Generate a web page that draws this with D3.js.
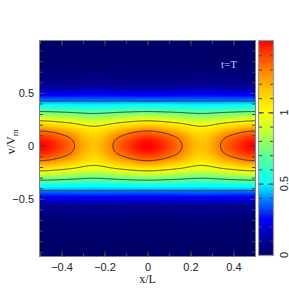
<!DOCTYPE html>
<html>
<head>
<meta charset="utf-8">
<script src="https://cdn.jsdelivr.net/npm/d3@7"></script>
<style>
  body { margin: 0; background: #fff; }
  svg { display: block; }
</style>
</head>
<body>
<div class="chart"></div>
<script>
// DATA
// ----------------------------
// sample positions of the field (x/L across, v/Vm down the rows)
const xs = [-0.5, -0.375, -0.25, -0.125, 0, 0.125, 0.25, 0.375, 0.5]
const ys = [1.0, 0.9, 0.8, 0.7, 0.6, 0.5, 0.4, 0.3, 0.2, 0.1, 0.0,
  -0.1, -0.2, -0.3, -0.4, -0.5, -0.6, -0.7, -0.8, -0.9, -1.0]

// values, one row per ys entry
const field = [
  [0.000, 0.000, 0.000, 0.000, 0.000, 0.000, 0.000, 0.000, 0.000],
  [0.001, 0.001, 0.001, 0.001, 0.001, 0.001, 0.001, 0.001, 0.001],
  [0.005, 0.005, 0.006, 0.005, 0.005, 0.005, 0.006, 0.005, 0.005],
  [0.020, 0.021, 0.024, 0.021, 0.020, 0.021, 0.024, 0.021, 0.020],
  [0.070, 0.074, 0.082, 0.074, 0.070, 0.074, 0.082, 0.074, 0.070],
  [0.200, 0.205, 0.212, 0.205, 0.200, 0.205, 0.212, 0.205, 0.200],
  [0.466, 0.465, 0.460, 0.465, 0.466, 0.465, 0.460, 0.465, 0.466],
  [0.778, 0.750, 0.715, 0.750, 0.778, 0.750, 0.715, 0.750, 0.778],
  [1.120, 1.055, 0.970, 1.055, 1.120, 1.055, 0.970, 1.055, 1.120],
  [1.395, 1.285, 1.120, 1.285, 1.395, 1.285, 1.120, 1.285, 1.395],
  [1.500, 1.365, 1.160, 1.365, 1.500, 1.365, 1.160, 1.365, 1.500],
  [1.395, 1.285, 1.120, 1.285, 1.395, 1.285, 1.120, 1.285, 1.395],
  [1.120, 1.055, 0.970, 1.055, 1.120, 1.055, 0.970, 1.055, 1.120],
  [0.778, 0.750, 0.715, 0.750, 0.778, 0.750, 0.715, 0.750, 0.778],
  [0.466, 0.465, 0.460, 0.465, 0.466, 0.465, 0.460, 0.465, 0.466],
  [0.200, 0.205, 0.212, 0.205, 0.200, 0.205, 0.212, 0.205, 0.200],
  [0.070, 0.074, 0.082, 0.074, 0.070, 0.074, 0.082, 0.074, 0.070],
  [0.020, 0.021, 0.024, 0.021, 0.020, 0.021, 0.024, 0.021, 0.020],
  [0.005, 0.005, 0.006, 0.005, 0.005, 0.005, 0.006, 0.005, 0.005],
  [0.001, 0.001, 0.001, 0.001, 0.001, 0.001, 0.001, 0.001, 0.001],
  [0.000, 0.000, 0.000, 0.000, 0.000, 0.000, 0.000, 0.000, 0.000]
]

const contourLevels = [0.1, 0.4, 0.7, 1.0, 1.3]

const xTicks = [-0.4, -0.2, 0, 0.2, 0.4]
const yTicks = [-0.5, 0, 0.5]
const cTicks = [0, 0.5, 1]

// colour table of the bar
const stopValues = [0, 0.12, 0.25, 0.38, 0.5, 0.62, 0.75, 0.87, 1.0, 1.15, 1.3, 1.43, 1.5]
const stopColors = ['#00006a', '#0000a8', '#0000ff', '#0078ff', '#00ffff', '#3cffbe',
  '#78ff78', '#c8ff32', '#ffff00', '#ffc800', '#ff7d00', '#ff3200', '#ff0000']

// SETUP
// ----------------------------
const margin = { top: 41, left: 40 }
const width = 215
const height = 215
const bar = { x: 259, y: 41, w: 14, h: 214 }

const svg = d3.select('.chart')
  .append('svg')
    .attr('width', 289)
    .attr('height', 290)

const plot = svg.append('g')
  .attr('transform', `translate(${margin.left}, ${margin.top})`)

const xScale = d3.scaleLinear().domain([-0.5, 0.5]).range([0, width])
const yScale = d3.scaleLinear().domain([-1.04, 0.99]).range([height, 0])
const color = d3.scaleLinear().domain(stopValues).range(stopColors).clamp(true)

// bicubic lookup into the table
function reflect (i, n) {
  if (i < 0) return -i
  if (i > n - 1) return 2 * (n - 1) - i
  return i
}
function cr (p0, p1, p2, p3, t) {
  return 0.5 * (2 * p1 + (-p0 + p2) * t + (2 * p0 - 5 * p1 + 4 * p2 - p3) * t * t +
    (-p0 + 3 * p1 - 3 * p2 + p3) * t * t * t)
}
function sample (x, y) {
  const nx = xs.length
  const ny = ys.length
  let fx = (x - xs[0]) / (xs[1] - xs[0])
  let fy = (ys[0] - y) / (ys[0] - ys[1])
  fx = Math.max(0, Math.min(nx - 1, fx))
  fy = Math.max(0, Math.min(ny - 1, fy))
  const i = Math.min(nx - 2, Math.floor(fx))
  const j = Math.min(ny - 2, Math.floor(fy))
  const tx = fx - i
  const ty = fy - j
  const rows = [-1, 0, 1, 2].map(dj => {
    const r = field[reflect(j + dj, ny)]
    const p = [-1, 0, 1, 2].map(di => r[reflect(i + di, nx)])
    return cr(p[0], p[1], p[2], p[3], tx)
  })
  return cr(rows[0], rows[1], rows[2], rows[3], ty)
}

// HEATMAP
// ----------------------------
const canvas = document.createElement('canvas')
canvas.width = width
canvas.height = height
const ctx = canvas.getContext('2d')
const img = ctx.createImageData(width, height)
for (let j = 0; j < height; j++) {
  for (let i = 0; i < width; i++) {
    const v = sample(xScale.invert(i + 0.5), yScale.invert(j + 0.5))
    const c = d3.rgb(color(v))
    const k = (j * width + i) * 4
    img.data[k] = c.r
    img.data[k + 1] = c.g
    img.data[k + 2] = c.b
    img.data[k + 3] = 255
  }
}
ctx.putImageData(img, 0, 0)

plot.append('image')
  .attr('width', width)
  .attr('height', height)
  .attr('preserveAspectRatio', 'none')
  .attr('href', canvas.toDataURL())

// CONTOURS
// ----------------------------
// grid padded by 2px so the ring edges fall outside the clip
const pad = 2
const gw = width + 2 * pad
const gh = height + 2 * pad
const grid = new Float64Array(gw * gh)
for (let j = 0; j < gh; j++) {
  for (let i = 0; i < gw; i++) {
    grid[j * gw + i] = sample(xScale.invert(i - pad + 0.5), yScale.invert(j - pad + 0.5))
  }
}
const contours = d3.contours().size([gw, gh]).thresholds(contourLevels)(grid)

svg.append('clipPath')
  .attr('id', 'clip')
  .append('rect')
    .attr('width', width)
    .attr('height', height)

plot.append('g')
    .attr('clip-path', 'url(#clip)')
  .append('g')
    .attr('transform', `translate(${-pad}, ${-pad})`)
  .selectAll('path')
  .data(contours)
  .enter()
  .append('path')
    .attr('d', d3.geoPath())
    .style('fill', 'none')
    .style('stroke', '#1a1a1a')
    .style('stroke-width', 0.8)

// AXES
// ----------------------------
const tickFont = g => g.selectAll('text')
  .style('font-family', '"Liberation Sans", Arial, sans-serif')
  .style('font-size', '11px')
  .style('fill', '#222')
const grey = g => {
  g.select('.domain').remove()
  g.selectAll('line').style('stroke', '#444')
}

plot.append('g')
  .attr('transform', `translate(0, ${height})`)
  .call(d3.axisBottom(xScale).tickValues(xTicks).tickSize(-5).tickPadding(7).tickFormat(d3.format('')))
  .call(grey).call(tickFont)
plot.append('g')
  .attr('transform', `translate(0, ${height})`)
  .call(d3.axisBottom(xScale).tickValues(d3.range(-0.5, 0.51, 0.1)).tickSize(-3).tickFormat(''))
  .call(grey)
plot.append('g')
  .call(d3.axisTop(xScale).tickValues(xTicks).tickSize(-5).tickFormat(''))
  .call(grey)
plot.append('g')
  .call(d3.axisTop(xScale).tickValues(d3.range(-0.5, 0.51, 0.1)).tickSize(-3).tickFormat(''))
  .call(grey)

plot.append('g')
  .call(d3.axisLeft(yScale).tickValues(yTicks).tickSize(-5).tickPadding(6).tickFormat(d3.format('')))
  .call(grey).call(tickFont)
plot.append('g')
  .call(d3.axisLeft(yScale).tickValues(d3.range(-1, 1.01, 0.1)).tickSize(-3).tickFormat(''))
  .call(grey)
plot.append('g')
  .attr('transform', `translate(${width}, 0)`)
  .call(d3.axisRight(yScale).tickValues(yTicks).tickSize(-5).tickFormat(''))
  .call(grey)
plot.append('g')
  .attr('transform', `translate(${width}, 0)`)
  .call(d3.axisRight(yScale).tickValues(d3.range(-1, 1.01, 0.1)).tickSize(-3).tickFormat(''))
  .call(grey)

plot.append('rect')
  .attr('x', -0.5)
  .attr('y', -0.5)
  .attr('width', width + 1)
  .attr('height', height + 1)
  .style('fill', 'none')
  .style('stroke', '#808080')

// labels
svg.append('text')
  .attr('x', margin.left + xScale(0))
  .attr('y', 283)
  .attr('text-anchor', 'middle')
  .style('font-family', '"Liberation Serif", "Times New Roman", serif')
  .style('font-size', '12px')
  .style('fill', '#222')
  .text('x/L')

const ylab = svg.append('text')
  .attr('transform', `translate(15, ${margin.top + yScale(0) - 4}) rotate(-90)`)
  .attr('text-anchor', 'middle')
  .style('font-family', '"Liberation Serif", "Times New Roman", serif')
  .style('font-size', '12px')
  .style('fill', '#222')
ylab.append('tspan').text('v/V')
ylab.append('tspan').attr('dy', 3).style('font-size', '9px').text('m')

svg.append('text')
  .attr('x', 229)
  .attr('y', 68)
  .attr('text-anchor', 'middle')
  .style('font-family', '"Liberation Serif", "Times New Roman", serif')
  .style('font-size', '11px')
  .style('fill', '#c4c4ee')
  .text('t=T')

// COLOURBAR
// ----------------------------
const cScale = d3.scaleLinear().domain([0, 1.5]).range([bar.h, 0])

const grad = svg.append('defs')
  .append('linearGradient')
    .attr('id', 'cbar')
    .attr('x1', 0).attr('y1', 1)
    .attr('x2', 0).attr('y2', 0)
grad.selectAll('stop')
  .data(stopValues)
  .enter()
  .append('stop')
    .attr('offset', d => d / 1.5)
    .attr('stop-color', (d, i) => stopColors[i])

const cbar = svg.append('g')
  .attr('transform', `translate(${bar.x}, ${bar.y})`)

cbar.append('rect')
  .attr('width', bar.w)
  .attr('height', bar.h)
  .style('fill', 'url(#cbar)')

cbar.append('g')
  .call(d3.axisLeft(cScale).tickValues(d3.range(0, 1.51, 0.1)).tickSize(-3).tickFormat(''))
  .call(grey)
cbar.append('g')
  .attr('transform', `translate(${bar.w}, 0)`)
  .call(d3.axisRight(cScale).tickValues(d3.range(0, 1.51, 0.1)).tickSize(-3).tickFormat(''))
  .call(grey)
cbar.append('g')
  .call(d3.axisLeft(cScale).tickValues([0.5, 1]).tickSize(-5).tickFormat(''))
  .call(grey)
cbar.append('g')
  .attr('transform', `translate(${bar.w}, 0)`)
  .call(d3.axisRight(cScale).tickValues([0.5, 1]).tickSize(-5).tickFormat(''))
  .call(grey)

cbar.append('rect')
  .attr('x', -0.5)
  .attr('y', -0.5)
  .attr('width', bar.w + 1)
  .attr('height', bar.h + 1)
  .style('fill', 'none')
  .style('stroke', '#999')
  .style('stroke-width', 1.2)

cbar.selectAll('.clabel')
  .data(cTicks)
  .enter()
  .append('text')
    .attr('class', 'clabel')
    .attr('transform', d => `translate(${bar.w + 14.5}, ${cScale(d)}) rotate(-90)`)
    .attr('text-anchor', 'middle')
    .style('font-family', '"Liberation Sans", Arial, sans-serif')
    .style('font-size', '11px')
    .style('fill', '#222')
    .text(d => d3.format('')(d))
</script>
</body>
</html>
